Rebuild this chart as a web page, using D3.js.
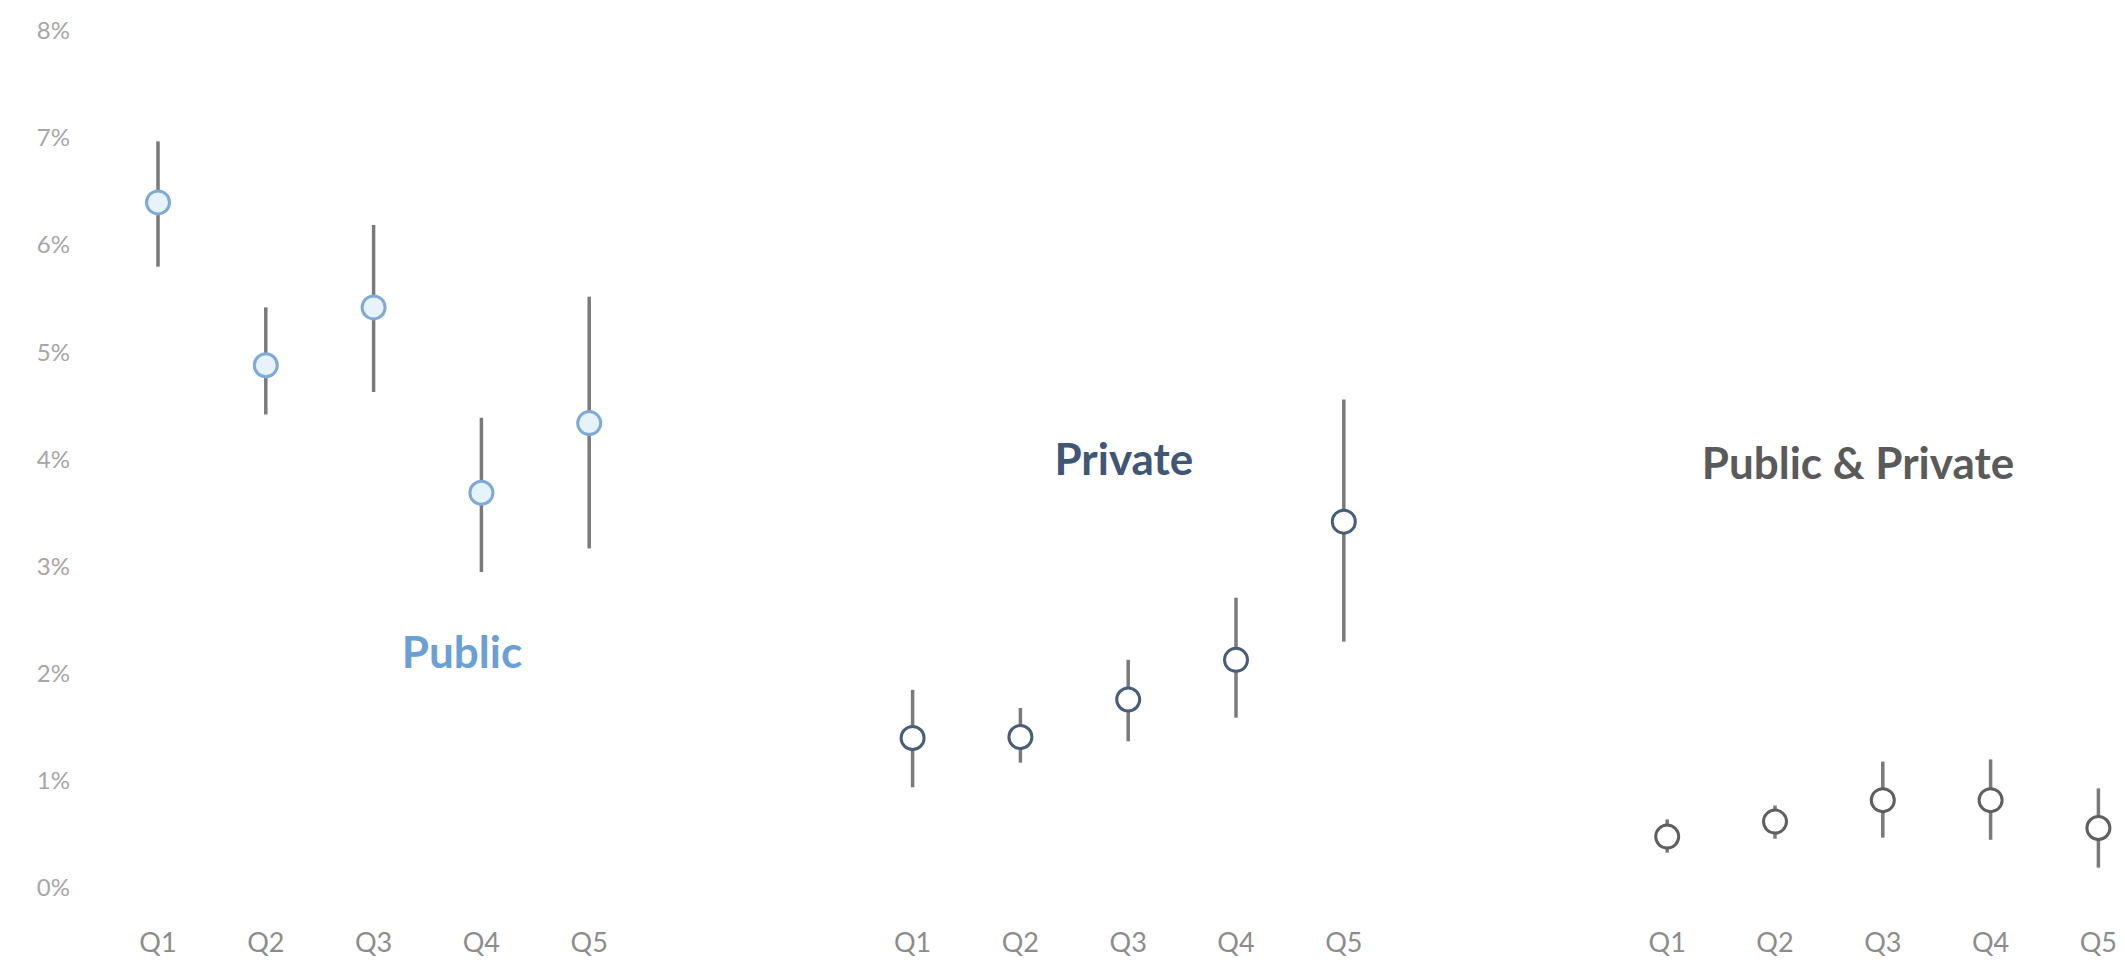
<!DOCTYPE html>
<html>
<head>
<meta charset="utf-8">
<script src="https://cdn.jsdelivr.net/npm/d3@7"></script>
<style>
  html, body { margin: 0; padding: 0; background: #ffffff; }
  svg { display: block; }
</style>
</head>
<body>
<svg id="chart" width="2125" height="964"></svg>
<script>
// Quintile groups and their estimates (percent), with interval bounds
const quintiles = ["Q1", "Q2", "Q3", "Q4", "Q5"];
const groups = ["Public", "Private", "Public & Private"];

const publicMean = [6.40, 4.88, 5.42, 3.69, 4.34];
const publicLow  = [5.80, 4.42, 4.63, 2.95, 3.17];
const publicHigh = [6.97, 5.42, 6.19, 4.39, 5.52];

const privateMean = [1.40, 1.41, 1.76, 2.13, 3.42];
const privateLow  = [0.94, 1.17, 1.37, 1.59, 2.30];
const privateHigh = [1.85, 1.68, 2.13, 2.71, 4.56];

const bothMean = [0.48, 0.62, 0.82, 0.82, 0.56];
const bothLow  = [0.33, 0.46, 0.47, 0.45, 0.19];
const bothHigh = [0.64, 0.77, 1.18, 1.20, 0.93];

const yTicks = [0, 1, 2, 3, 4, 5, 6, 7, 8];

// Styling per group
const groupStyle = {
  "Public":           { stroke: "#7fa9d6", fill: "#e6f3fb", label: "#6b9fd6" },
  "Private":          { stroke: "#4a5d78", fill: "#ffffff", label: "#3f5675" },
  "Public & Private": { stroke: "#5f5f5f", fill: "#ffffff", label: "#5a5a5a" }
};

const series = [
  { group: "Public",           mean: publicMean,  low: publicLow,  high: publicHigh },
  { group: "Private",          mean: privateMean, low: privateLow, high: privateHigh },
  { group: "Public & Private", mean: bothMean,    low: bothLow,    high: bothHigh }
];

// One slot per quintile, with two empty slots separating the groups
const slots = [];
groups.forEach((g, gi) => {
  quintiles.forEach(q => slots.push(g + "|" + q));
  if (gi < groups.length - 1) { slots.push("gap" + gi + "a"); slots.push("gap" + gi + "b"); }
});

const svg = d3.select("#chart");

const x = d3.scaleBand()
  .domain(slots)
  .range([104.1, 2152.3])
  .paddingInner(0)
  .paddingOuter(0);

const y = d3.scaleLinear()
  .domain([0, 8])
  .range([888, 31]);

const cx = key => x(key) + x.bandwidth() / 2;

// Y axis: percentage labels only
const yAxis = svg.append("g")
  .attr("transform", "translate(80,0)")
  .call(d3.axisLeft(y).tickValues(yTicks).tickSize(0).tickPadding(10)
    .tickFormat(d => d + "%"));
yAxis.select(".domain").remove();
yAxis.selectAll("text")
  .attr("font-family", "Lato, 'Open Sans', sans-serif")
  .attr("font-size", 24)
  .attr("fill", "#a6a6a6");

// X axis: quintile labels under each slot
const xAxis = svg.append("g")
  .attr("transform", "translate(0,888)")
  .call(d3.axisBottom(x).tickSize(0)
    .tickFormat(k => k.startsWith("gap") ? "" : k.split("|")[1]));
xAxis.select(".domain").remove();
xAxis.selectAll("text")
  .attr("y", 55)
  .attr("dy", "0.35em")
  .attr("font-family", "Lato, 'Open Sans', sans-serif")
  .attr("font-size", 27)
  .attr("fill", "#8c8c8c");

// Interval lines and estimate markers
series.forEach(s => {
  const st = groupStyle[s.group];
  const rows = quintiles.map((q, i) => ({
    key: s.group + "|" + q, mean: s.mean[i], low: s.low[i], high: s.high[i]
  }));
  const g = svg.append("g");
  g.selectAll("line.err")
    .data(rows)
    .join("line")
    .attr("class", "err")
    .attr("x1", d => cx(d.key))
    .attr("x2", d => cx(d.key))
    .attr("y1", d => y(d.high))
    .attr("y2", d => y(d.low))
    .attr("stroke", "#7a7a7a")
    .attr("stroke-width", 3.5);
  g.selectAll("circle")
    .data(rows)
    .join("circle")
    .attr("cx", d => cx(d.key))
    .attr("cy", d => y(d.mean))
    .attr("r", 11.5)
    .attr("fill", st.fill)
    .attr("stroke", st.stroke)
    .attr("stroke-width", 3);
});

// Group names placed within each group's area
const groupLabels = [
  { group: "Public",           slot: "Public|Q3",           shift: 0.82, value: 2.2 },
  { group: "Private",          slot: "Private|Q3",          shift: -0.04, value: 4.0 },
  { group: "Public & Private", slot: "Public & Private|Q2", shift: 0.77, value: 3.96 }
];
svg.append("g")
  .selectAll("text")
  .data(groupLabels)
  .join("text")
  .attr("x", d => cx(d.slot) + d.shift * x.bandwidth())
  .attr("y", d => y(d.value))
  .attr("dy", "0.35em")
  .attr("text-anchor", "middle")
  .attr("font-family", "Lato, 'Open Sans', sans-serif")
  .attr("font-weight", "bold")
  .attr("font-size", 44)
  .attr("fill", d => groupStyle[d.group].label)
  .text(d => d.group);
</script>
</body>
</html>
